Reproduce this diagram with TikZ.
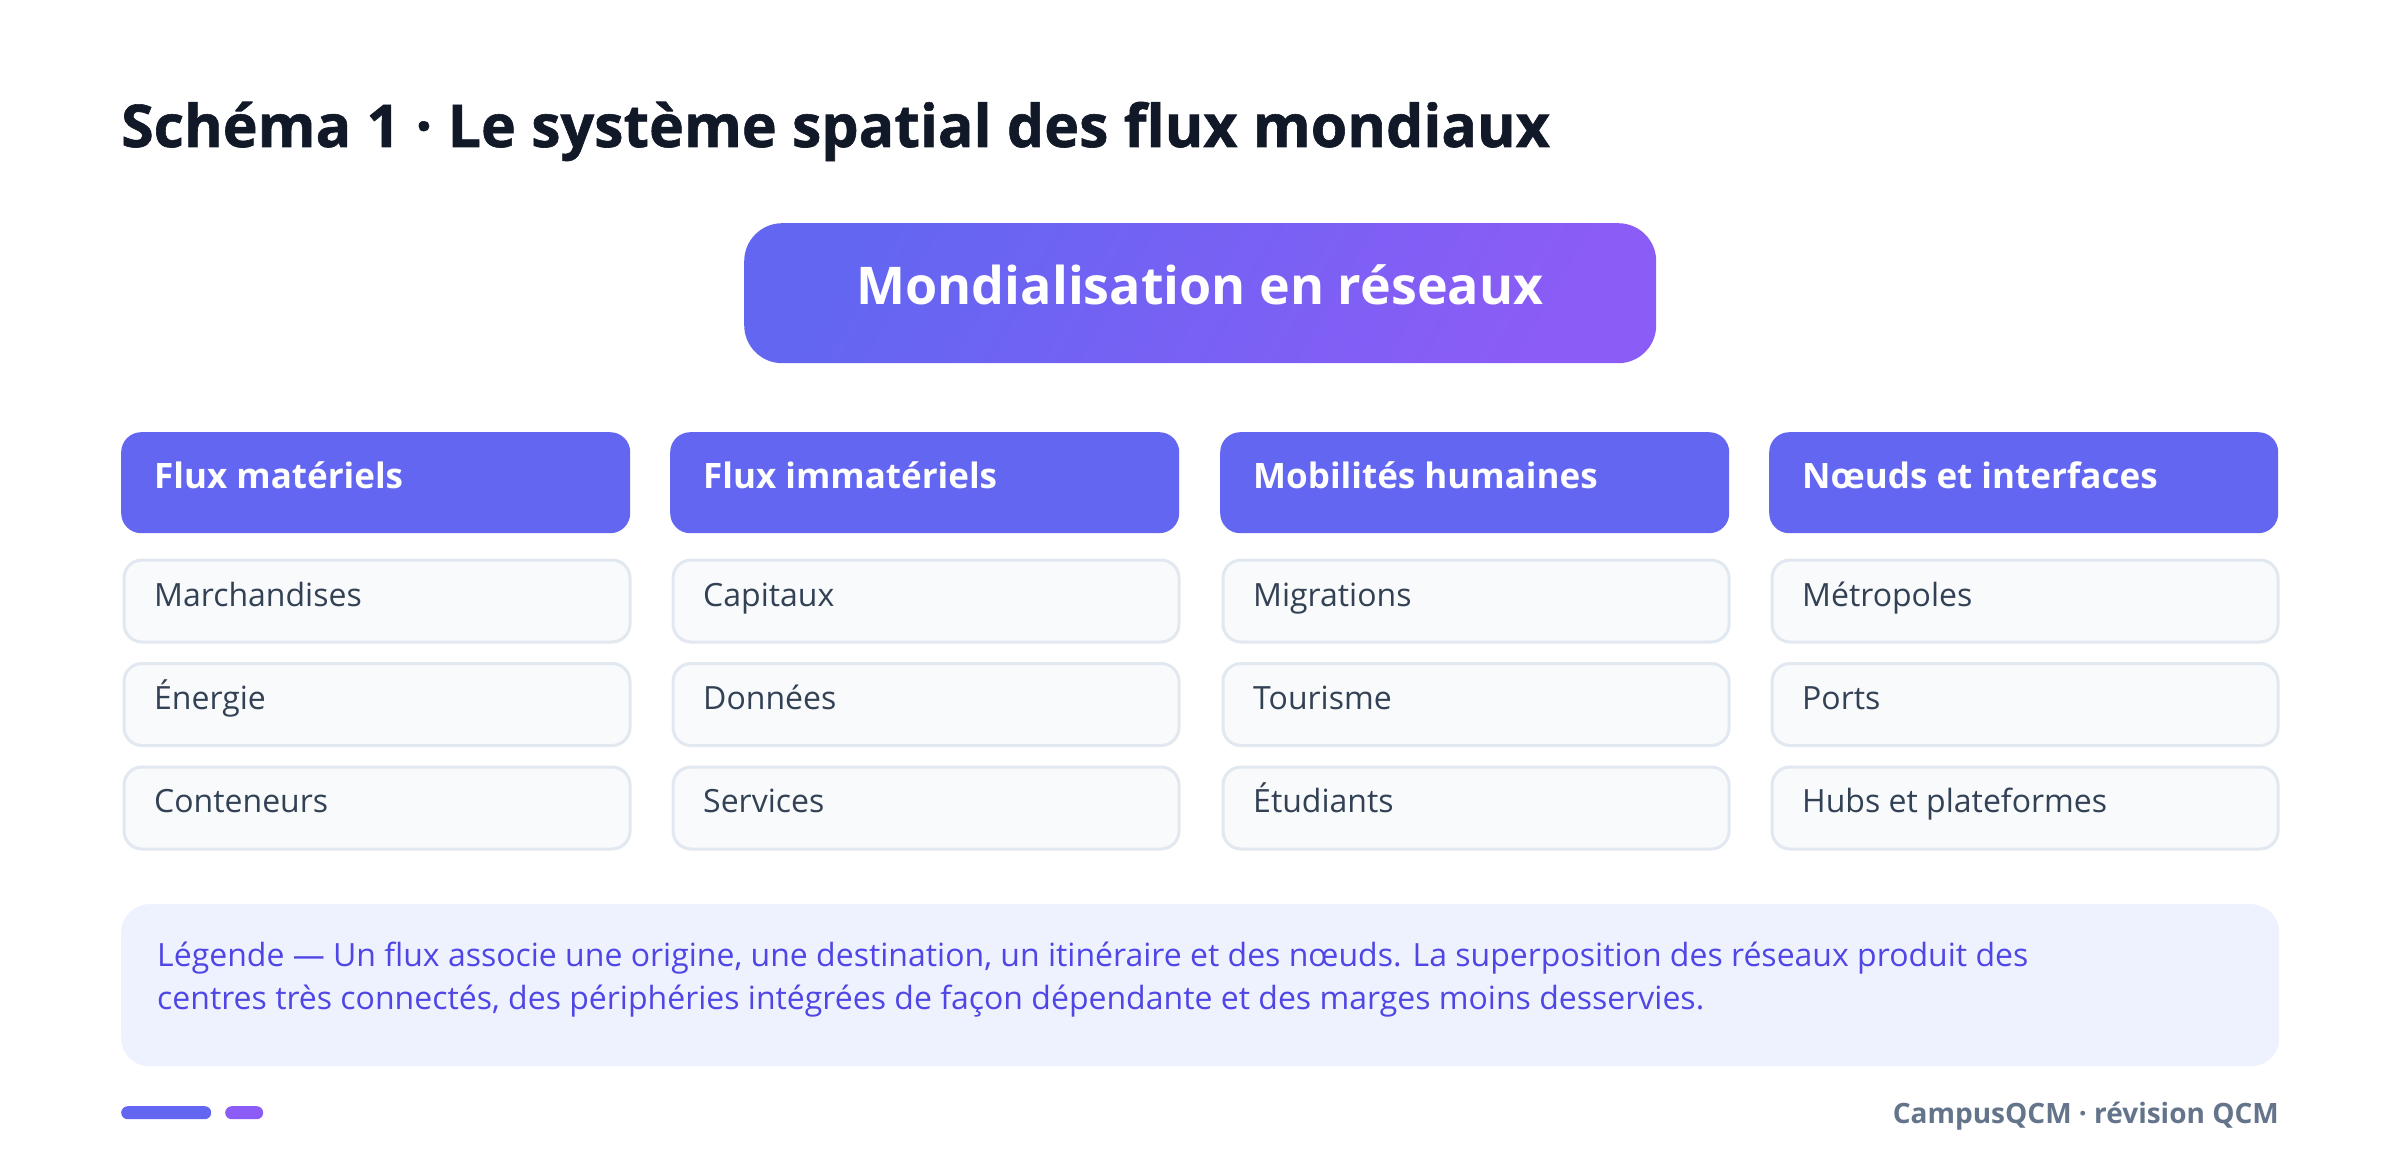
\documentclass[tikz,border=0pt]{standalone}
\usepackage{fontspec}
\setmainfont{Open Sans}
\newfontfamily\titlefont{Open Sans Bold}[FakeBold=1]
\IfFontExistsTF{Open Sans SemiBold}{\newfontfamily\semifont{Open Sans SemiBold}}{\newfontfamily\semifont{Open Sans Bold}}
\definecolor{indigo}{HTML}{6366F1}
\definecolor{violet}{HTML}{8B5CF6}
\definecolor{titlec}{HTML}{111827}
\definecolor{itemfill}{HTML}{F8FAFC}
\definecolor{itemborder}{HTML}{E2E8F0}
\definecolor{itemtext}{HTML}{334155}
\definecolor{legfill}{HTML}{EEF2FF}
\definecolor{legtext}{HTML}{4F46E5}
\definecolor{footc}{HTML}{64748B}
\tikzset{
  hdrbox/.style={draw=none, fill=indigo, rounded corners=20pt, minimum width=509pt, minimum height=101pt, anchor=north west, inner sep=0pt},
  itmbox/.style={draw=itemborder, line width=3pt, fill=itemfill, rounded corners=18pt, minimum width=506pt, minimum height=82pt, anchor=north west, inner sep=0pt},
  hdrtxt/.style={anchor=base west, text=white, font=\fontsize{35}{40}\selectfont\bfseries, inner sep=0pt},
  itmtxt/.style={anchor=base west, text=itemtext, font=\fontsize{32}{36}\selectfont, inner sep=0pt},
  legtxt/.style={anchor=base west, text=legtext, font=\fontsize{32}{36}\selectfont, inner sep=0pt},
}
\begin{document}
\begin{tikzpicture}[x=1pt,y=-1pt]
\useasboundingbox (0,0) rectangle (2400,1174);
\fill[white] (0,0) rectangle (2400,1174);
% title
\node[anchor=base west, inner sep=0pt, text=titlec, font=\fontsize{59}{64}\titlefont] (title) at (121,147) {Schéma 1 · Le système spatial des flux mondiaux};
% main box
\node[anchor=north west, inner sep=0pt, rounded corners=38pt, top color=indigo, bottom color=violet, shading angle=60, minimum width=912pt, minimum height=140pt] (mainbox) at (744,223) {};
\node[anchor=base, inner sep=0pt, text=white, font=\fontsize{52}{56}\selectfont\bfseries] (maintxt) at (1200,304) {Mondialisation en réseaux};
% columns
\foreach \i/\x/\h/\a/\b/\c in {
  1/121/Flux matériels/Marchandises/Énergie/Conteneurs,
  2/670/Flux immatériels/Capitaux/Données/Services,
  3/1220/Mobilités humaines/Migrations/Tourisme/Étudiants,
  4/1769/Nœuds et interfaces/Métropoles/Ports/Hubs et plateformes}{
  \node[hdrbox] (h\i) at (\x,432) {};
  \node[hdrtxt] (ht\i) at (\x+33,488) {\h};
  \node[itmbox] (a\i) at (\x+1.5,558.5) {};
  \node[itmtxt] (at\i) at (\x+33,606) {\a};
  \node[itmbox] (b\i) at (\x+1.5,662) {};
  \node[itmtxt] (bt\i) at (\x+33,709) {\b};
  \node[itmbox] (c\i) at (\x+1.5,765.5) {};
  \node[itmtxt] (ct\i) at (\x+33,812) {\c};
}
% legend
\node[anchor=north west, inner sep=0pt, fill=legfill, rounded corners=28pt, minimum width=2158pt, minimum height=162pt] (legend) at (121,904) {};
\node[legtxt] (leg1) at (157,966) {Légende — Un flux associe une origine, une destination, un itinéraire et des nœuds. La superposition des réseaux produit des};
\node[legtxt] (leg2) at (157,1009) {centres très connectés, des périphéries intégrées de façon dépendante et des marges moins desservies.};
% footer
\node[anchor=north west, inner sep=0pt, fill=indigo, rounded corners=6.5pt, minimum width=90pt, minimum height=13pt] (bar1) at (121,1106) {};
\node[anchor=north west, inner sep=0pt, fill=violet, rounded corners=6.5pt, minimum width=38pt, minimum height=13pt] (bar2) at (225,1106) {};
\node[anchor=base east, inner sep=0pt, text=footc, font=\fontsize{28}{30}\semifont] (foot) at (2279,1123) {CampusQCM · révision QCM};
\end{tikzpicture}
\end{document}
